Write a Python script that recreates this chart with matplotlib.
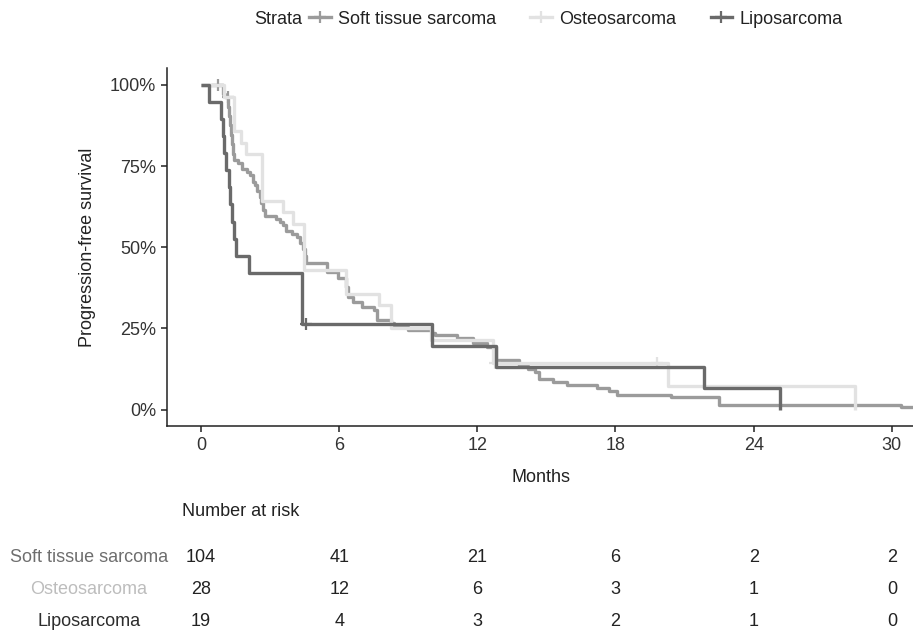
import numpy as np
import matplotlib
matplotlib.use("Agg")
import matplotlib.pyplot as plt
from matplotlib.lines import Line2D
from matplotlib.transforms import blended_transform_factory

plt.rcParams["font.family"] = ["Liberation Sans", "DejaVu Sans"]

# --- data (months, % progression-free) ---
groups = ["Soft tissue sarcoma", "Osteosarcoma", "Liposarcoma"]

sts_t = [0, 0.95, 1.05, 1.18, 1.22, 1.26, 1.3, 1.35, 1.4, 1.45, 1.6, 1.8, 2.0,
         2.15, 2.25, 2.35, 2.45, 2.55, 2.62, 2.7, 2.78, 3.25, 3.42, 3.55, 3.7,
         3.95, 4.15, 4.3, 4.42, 4.5, 4.58, 5.48, 5.93, 6.28, 6.37, 6.58, 7.0,
         7.5, 7.66, 8.24, 8.4, 9.0, 10.04, 10.15, 11.1, 11.8, 12.4, 12.8, 13.8,
         14.2, 14.5, 14.67, 15.3, 15.9, 17.2, 17.7, 18.06, 20.4, 22.5, 30.4, 30.96]
sts_s = [100, 97.1, 96.2, 93.3, 90.4, 87.5, 84.6, 81.7, 78.8, 76.9, 75.9, 74.0, 73.1,
         72.1, 70.2, 69.2, 67.3, 65.4, 63.5, 61.5, 59.6, 58.6, 57.7, 56.7, 55.0,
         54.0, 53.0, 51.2, 49.3, 47.4, 45.0, 42.4, 40.4, 37.7, 34.6, 33.1, 31.6,
         30.6, 27.5, 26.5, 25.4, 24.5, 23.5, 22.8, 21.9, 20.5, 19.2, 15.1, 13.5,
         12.5, 11.5, 9.5, 8.4, 7.7, 6.7, 5.7, 4.6, 3.8, 1.5, 0.75, 0.75]
sts_cens_t = [0.72, 1.16]
sts_cens_s = [100, 96.2]

ost_t = [0, 1.0, 1.43, 1.73, 1.95, 2.65, 3.55, 4.0, 4.47, 6.29, 7.72, 8.24, 10.0,
         12.7, 20.3, 28.4]
ost_s = [100, 96.4, 85.7, 82.1, 78.6, 64.3, 60.7, 57.1, 42.9, 35.7, 32.1, 25.0, 21.4,
         14.3, 7.1, 0]
ost_cens_t = [12.75, 19.8]
ost_cens_s = [14.3, 14.3]

lip_t = [0, 0.35, 0.87, 0.95, 1.02, 1.1, 1.2, 1.28, 1.35, 1.42, 1.52, 2.1, 4.4,
         10.05, 12.8, 21.85, 25.15]
lip_s = [100, 94.7, 89.5, 84.2, 78.9, 73.7, 68.4, 63.2, 57.9, 52.6, 47.4, 42.1, 26.3,
         19.7, 13.2, 6.6, 0]
lip_cens_t = [4.55]
lip_cens_s = [26.3]

risk_times = [0, 6, 12, 18, 24, 30]
risk_sts = [104, 41, 21, 6, 2, 2]
risk_ost = [28, 12, 6, 3, 1, 0]
risk_lip = [19, 4, 3, 2, 1, 0]

line_cols = ["#9b9b9b", "#e2e2e2", "#6a6a6a"]
label_cols = ["#6e6e6e", "#bdbdbd", "#2d2d2d"]
FS = 13

W, H = 913, 636
fig = plt.figure(figsize=(W / 100, H / 100), dpi=100)
ax = fig.add_axes([167.3 / W, 1 - 426 / H, (W - 167.3) / W, (426 - 68) / H])

curves = [(sts_t, sts_s, sts_cens_t, sts_cens_s),
          (ost_t, ost_s, ost_cens_t, ost_cens_s),
          (lip_t, lip_s, lip_cens_t, lip_cens_s)]
for (t, s, ct, cs), col in zip(curves, line_cols):
    ax.step(t, s, where="post", color=col, lw=2.4, solid_capstyle="butt")
    ax.plot(ct, cs, "+", color=col, ms=9, mew=1.6, ls="none")

ax.set_xlim(-1.463, 30.92)
ax.set_ylim(-5.08, 105.2)
ax.set_xticks(risk_times)
ax.set_yticks([0, 25, 50, 75, 100])
ax.set_yticklabels(["0%", "25%", "50%", "75%", "100%"])
for side in ["top", "right"]:
    ax.spines[side].set_visible(False)
for side in ["left", "bottom"]:
    ax.spines[side].set_linewidth(1.1)
    ax.spines[side].set_color("#222222")
ax.tick_params(length=4, width=1.1, color="#222222", labelsize=FS,
               labelcolor="#333333", pad=4)
ax.set_xlabel("Months", fontsize=FS, color="#222222", va="center")
ax.xaxis.set_label_coords((541 - 167.3) / (W - 167.3), -(478 - 426) / (426 - 68))
fig.text(87 / W, 1 - 247.5 / H, "Progression-free survival", rotation=90,
         ha="center", va="center", fontsize=FS, color="#222222")

# legend
fig.text(254 / W, 1 - 19 / H, "Strata", ha="left", va="center", fontsize=FS,
         color="#222222")
handles = [Line2D([], [], color=c, lw=2.4, marker="+", ms=9, mew=1.6)
           for c in line_cols]
fig.legend(handles, groups, ncol=3, loc="center left",
           bbox_to_anchor=(309 / W, 1 - 19 / H), frameon=False, fontsize=FS,
           handlelength=1.2, handletextpad=0.4, columnspacing=1.9,
           borderpad=0, borderaxespad=0, labelcolor="#222222")

# risk table
fig.text(181.7 / W, 1 - 512 / H, "Number at risk", ha="left", va="center",
         fontsize=FS, color="#222222")
tr = blended_transform_factory(ax.transData, fig.transFigure)
row_y = [558, 590, 622]
for name, counts, lc, y in zip(groups, [risk_sts, risk_ost, risk_lip],
                               label_cols, row_y):
    fig.text(89 / W, 1 - y / H, name, ha="center", va="center",
             fontsize=FS, color=lc)
    for t, n in zip(risk_times, counts):
        ax.text(t, 1 - y / H, str(n), transform=tr, ha="center", va="center",
                fontsize=FS, color="#222222", clip_on=False)

fig.savefig("out.png", dpi=100)
